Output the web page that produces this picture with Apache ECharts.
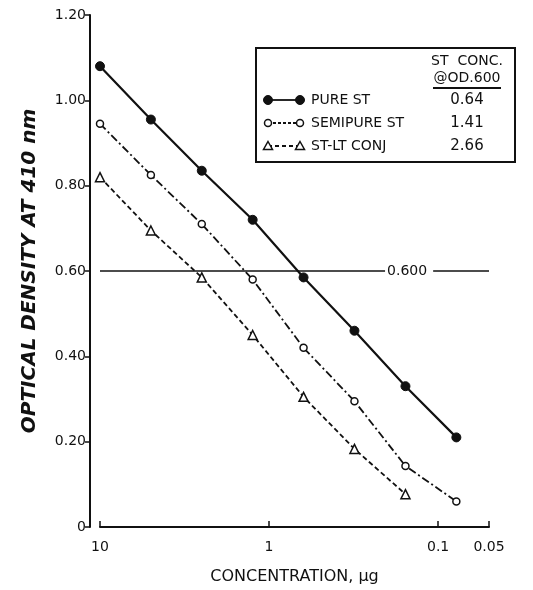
<!DOCTYPE html>
<html style="height: 100%">
<head>
    <meta charset="utf-8">
    <script src="https://cdn.jsdelivr.net/npm/echarts@6/dist/echarts.min.js"></script>
</head>
<body style="height: 100%; margin: 0; background: #fff">
    <div id="main" style="width: 533px; height: 590px"></div>
    <script type="text/javascript">
        // amounts, 2-fold dilutions (ug)
        var conc = [10, 5, 2.5, 1.25, 0.625, 0.3125, 0.156, 0.078];
        var pureST = [1.08, 0.955, 0.835, 0.72, 0.585, 0.46, 0.33, 0.21];
        var semipureST = [0.945, 0.825, 0.71, 0.58, 0.42, 0.295, 0.143, 0.06];
        var stltConj = [0.82, 0.695, 0.585, 0.45, 0.305, 0.183, 0.077];
        var seriesNames = ['PURE ST', 'SEMIPURE ST', 'ST-LT CONJ'];
        var concAt600 = ['0.64', '1.41', '2.66'];
        var refOD = 0.6;

        var FONT = 'DejaVu Sans';
        var INK = '#111';

        function pairs(ys) {
            return ys.map(function (y, i) { return [conc[i], y]; });
        }

        // legend samples drawn by hand: symbol - line - symbol
        var legendRowY = [100, 123, 146];
        var legendDash = [null, [3, 2], [4, 3]];
        function legendSymbol(kind, cx, cy) {
            if (kind === 0) {
                return { type: 'circle', shape: { cx: cx, cy: cy, r: 4.5 }, style: { fill: INK, stroke: INK } };
            }
            if (kind === 1) {
                return { type: 'circle', shape: { cx: cx, cy: cy, r: 3.5 }, style: { fill: '#fff', stroke: INK, lineWidth: 1.5 } };
            }
            return {
                type: 'polygon',
                shape: { points: [[cx, cy - 4.5], [cx + 4.5, cy + 3.5], [cx - 4.5, cy + 3.5]] },
                style: { fill: '#fff', stroke: INK, lineWidth: 1.5 }
            };
        }
        var legendGraphics = [];
        seriesNames.forEach(function (name, i) {
            var y = legendRowY[i];
            legendGraphics.push({
                type: 'line',
                shape: { x1: 268, y1: y, x2: 300, y2: y },
                style: { stroke: INK, lineWidth: 1.8, lineDash: legendDash[i] }
            });
            legendGraphics.push(legendSymbol(i, 268, y));
            legendGraphics.push(legendSymbol(i, 300, y));
            legendGraphics.push({
                type: 'text', x: 311, y: y,
                style: { text: name, fontSize: 14, fontFamily: FONT, fill: INK, verticalAlign: 'middle' }
            });
            legendGraphics.push({
                type: 'text', x: 467, y: y,
                style: { text: concAt600[i], fontSize: 15, fontFamily: FONT, fill: INK, align: 'center', verticalAlign: 'middle' }
            });
        });

        var chartDom = document.getElementById('main');
        var myChart = echarts.init(chartDom);
        var option;

        option = {
            animation: false,
            backgroundColor: '#fff',
            textStyle: { fontFamily: FONT, color: INK },
            grid: { left: 100, right: 44, top: 15, bottom: 63 },
            xAxis: {
                type: 'log',
                logBase: 10,
                inverse: true,
                min: 0.05,
                max: 10,
                name: 'CONCENTRATION, \u03bcg',
                nameLocation: 'middle',
                nameGap: 42,
                nameTextStyle: { fontSize: 16, color: INK, fontFamily: FONT },
                axisLine: { lineStyle: { color: INK, width: 2 } },
                axisTick: { inside: true, length: 6, lineStyle: { color: INK, width: 1.5 } },
                minorTick: { show: false },
                splitLine: { show: false },
                axisLabel: {
                    color: INK, fontSize: 14, margin: 13, fontFamily: FONT,
                    showMinLabel: true, showMaxLabel: true,
                    formatter: function (v) {
                        return v >= 1 ? String(Math.round(v)) : String(parseFloat(v.toPrecision(3)));
                    }
                }
            },
            yAxis: {
                type: 'value',
                min: 0,
                max: 1.2,
                interval: 0.2,
                offset: 10,
                name: 'OPTICAL DENSITY AT 410 nm',
                nameLocation: 'middle',
                nameGap: 50,
                nameTextStyle: { fontSize: 20, fontStyle: 'italic', fontWeight: 'bold', color: INK, fontFamily: FONT },
                axisLine: { show: true, lineStyle: { color: INK, width: 2 } },
                axisTick: { show: true, length: 5, lineStyle: { color: INK, width: 1.5 } },
                splitLine: { show: false },
                axisLabel: {
                    color: INK, fontSize: 14, margin: 4, fontFamily: FONT,
                    formatter: function (v) { return v === 0 ? '0' : v.toFixed(2); }
                }
            },
            graphic: [
                {
                    type: 'rect',
                    shape: { x: 256, y: 48, width: 259, height: 114 },
                    style: { fill: 'none', stroke: INK, lineWidth: 2 }
                },
                {
                    type: 'text', x: 467, y: 61,
                    style: { text: 'ST  CONC.', fontSize: 14, fontFamily: FONT, fill: INK, align: 'center', verticalAlign: 'middle' }
                },
                {
                    type: 'text', x: 467, y: 78,
                    style: { text: '@OD.600', fontSize: 14, fontFamily: FONT, fill: INK, align: 'center', verticalAlign: 'middle' }
                },
                {
                    type: 'line',
                    shape: { x1: 433, y1: 88, x2: 501, y2: 88 },
                    style: { stroke: INK, lineWidth: 2 }
                }
            ].concat(legendGraphics),
            series: [
                {
                    name: seriesNames[0],
                    type: 'line',
                    data: pairs(pureST),
                    symbol: 'circle',
                    symbolSize: 9,
                    itemStyle: { color: INK, borderColor: INK, borderWidth: 1 },
                    lineStyle: { color: INK, width: 2.2 },
                    markLine: {
                        silent: true,
                        symbol: ['none', 'none'],
                        lineStyle: { color: INK, width: 1.5, type: 'solid' },
                        label: {
                            show: true,
                            position: 'end',
                            distance: 2,
                            formatter: refOD.toFixed(3),
                            fontSize: 14,
                            color: INK,
                            fontFamily: FONT
                        },
                        data: [
                            [{ coord: [10, refOD] }, { coord: [0.206, refOD] }],
                            [{ coord: [0.107, refOD], label: { show: false } }, { coord: [0.05, refOD] }]
                        ]
                    }
                },
                {
                    name: seriesNames[1],
                    type: 'line',
                    data: pairs(semipureST),
                    symbol: 'circle',
                    symbolSize: 7,
                    itemStyle: { color: '#fff', borderColor: INK, borderWidth: 1.5 },
                    lineStyle: { color: INK, width: 1.8, type: [8, 3, 2, 3] }
                },
                {
                    name: seriesNames[2],
                    type: 'line',
                    data: pairs(stltConj),
                    symbol: 'triangle',
                    symbolSize: 9,
                    itemStyle: { color: '#fff', borderColor: INK, borderWidth: 1.5 },
                    lineStyle: { color: INK, width: 1.8, type: [5, 3] }
                }
            ]
        };

        option && myChart.setOption(option);
    </script>
</body>
</html>
